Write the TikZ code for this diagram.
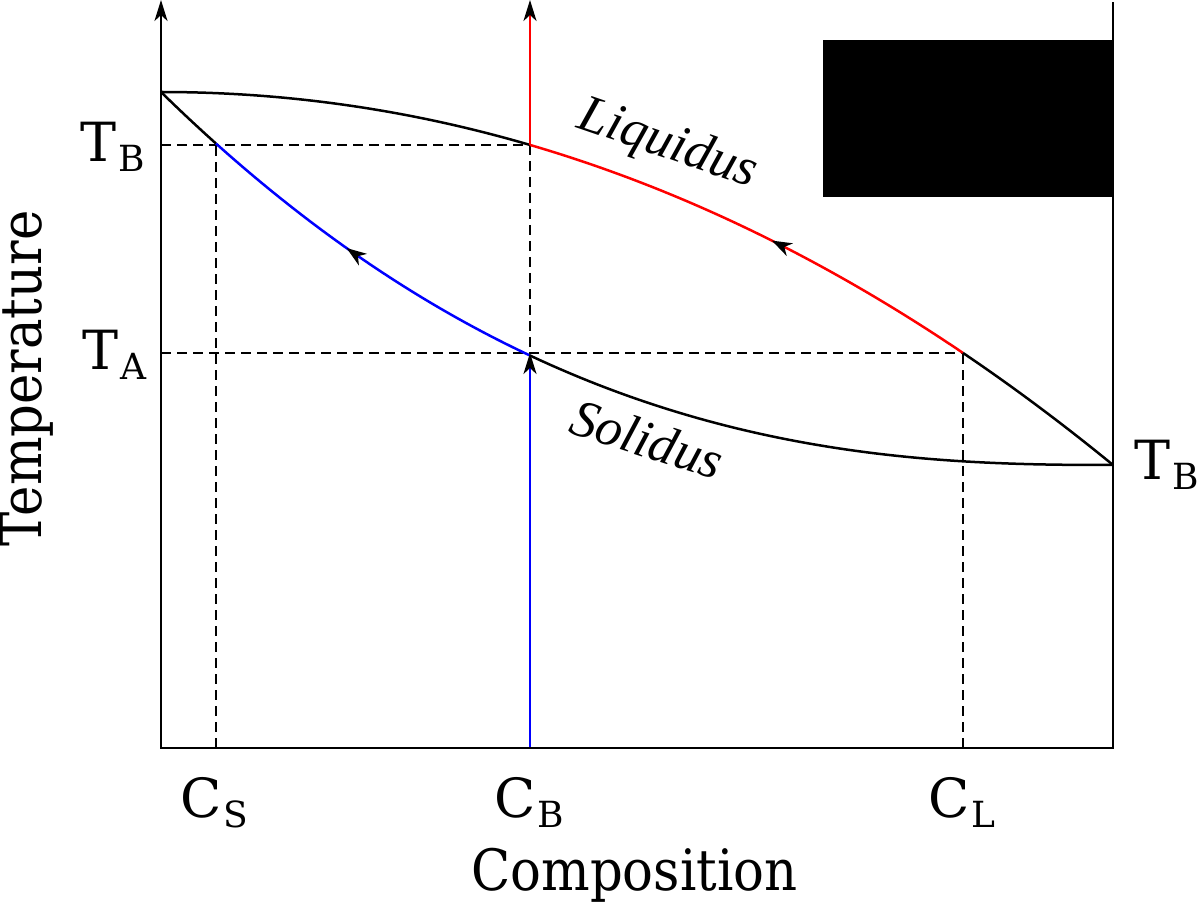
\documentclass[tikz,border=0pt]{standalone}
\usepackage{fontspec}
\setmainfont{DejaVu Serif}
\newfontfamily\axisfont{DejaVu Serif}[FakeStretch=0.9]
\newfontfamily\curvefont{Liberation Serif}
\usepackage{tikz}
\usetikzlibrary{arrows.meta}
\usetikzlibrary{decorations.markings}
\newcommand*{\lowidx}[1]{\kern1pt\raisebox{-5pt}{\fontsize{18}{18}\selectfont #1}}

\begin{document}
\begin{tikzpicture}[x=0.5pt, y=-0.5pt,
 every node/.style={inner sep=0pt},
axis/.style={line width=1.25pt, line join=miter},
curve/.style={line width=1.25pt},
guide/.style={line width=1.25pt, dash pattern=on 5pt off 3pt},
tip/.style={-{Stealth[length=10.5pt, width=6.5pt, inset=3pt, color=black]}},
midtip/.style={postaction={decorate, decoration={markings, mark=at position #1 with {\arrow{Stealth[length=10pt, width=7pt, inset=3pt, color=black]}}}}},
lab/.style={font=\fontsize{27}{32}\selectfont},
title/.style={font=\axisfont\fontsize{28.5}{34}\selectfont},
curvelab/.style={font=\curvefont\itshape\fontsize{26.5}{32}\selectfont},
declare function={liq(\x)=92+373*((\x-161)/952)^2*(0.91+0.09*(\x-161)/952);
 sol(\x)=92+373*(1-(1-(\x-161)/952)^2*sqrt(abs(1-(\x-161)/952)));}]

\useasboundingbox (0,0) rectangle (1200,908);

\coordinate (top) at (161,0);
\coordinate (O) at (161,748);
\coordinate (xend) at (1113,748);
\coordinate (rtop) at (1113,2);
\coordinate (ls) at (216,145);
\coordinate (lb) at (530,145);
\coordinate (sb) at (530,353);
\coordinate (ll) at (963,353);
\coordinate (cs) at (216,748);
\coordinate (cb) at (530,748);
\coordinate (cl) at (963,748);
\coordinate (cbtop) at (530,0);

% tie lines
\draw[guide] (O |- lb) -- (lb);
\draw[guide] (cs) -- (ls);
\draw[guide] (lb) -- (sb);
\draw[guide] (O |- sb) -- (ll);
\draw[guide] (cl) -- (ll);

\fill (823,40) rectangle (1113,197);

% liquidus
\draw[curve] plot[domain=161:530, samples=40] (\x,{liq(\x)});
\draw[curve, red, midtip=0.46] plot[domain=963:530, samples=50] (\x,{liq(\x)});
\draw[curve] plot[domain=963:1113, samples=30] (\x,{liq(\x)});
% solidus
\draw[curve] plot[domain=161:216, samples=20] (\x,{sol(\x)});
\draw[curve, blue, midtip=0.56] plot[domain=530:216, samples=50] (\x,{sol(\x)});
\draw[curve] plot[domain=530:1113, samples=60] (\x,{sol(\x)});

\draw[curve, blue, tip] (cb) -- (sb);
\draw[curve, red, tip] (lb) -- (cbtop);

\draw[axis, {Stealth[length=10.5pt, width=6.5pt, inset=3pt]}-] (top) -- (O) -- (xend) -- (rtop);

\node[lab, anchor=base east] (tb) at (145,162) {T\lowidx{B}};
\node[lab, anchor=base east] (ta) at (147,370) {T\lowidx{A}};
\node[lab, anchor=base west] (tbr) at (1134,480) {T\lowidx{B}};
\node[lab, anchor=base west] (csl) at (180,818) {C\lowidx{S}};
\node[lab, anchor=base west] (cbl) at (494,818) {C\lowidx{B}};
\node[lab, anchor=base west] (cll) at (928,818) {C\lowidx{L}};
\node[title, anchor=base west] (comp) at (471,890) {Composition};
\node[title, anchor=base west, rotate=90] (temp) at (41,547) {Temperature};
\node[curvelab, anchor=base west, rotate=-19] (liqlab) at (575,127) {Liquidus};
\node[curvelab, anchor=base west, rotate=-18] (sollab) at (567,432) {Solidus};

\end{tikzpicture}
\end{document}
